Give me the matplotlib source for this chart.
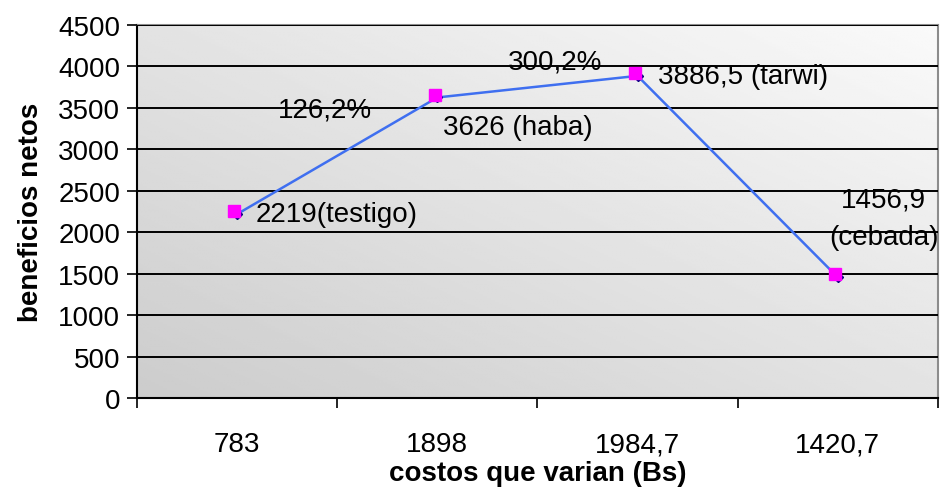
import numpy as np
import matplotlib
matplotlib.use("Agg")
import matplotlib.pyplot as plt
import matplotlib.transforms as mtransforms

plt.rcParams["font.family"] = ["Liberation Sans", "DejaVu Sans"]

costos = ["783", "1898", "1984,7", "1420,7"]
beneficios = [2219, 3626, 3886.5, 1456.9]
etiquetas = ["2219(testigo)", "3626 (haba)", "3886,5 (tarwi)", "1456,9\n(cebada)"]
tasas = ["126,2%", "300,2%"]


def main():
    fig = plt.figure(figsize=(9.41, 4.89), dpi=100)
    ax = fig.add_axes([0.1456, 0.184, 0.851, 0.7628])

    # gradient background (darker lower-left to light upper-right)
    gx, gy = np.meshgrid(np.linspace(0, 1, 200), np.linspace(0, 1, 200))
    g = (gx + gy) / 2
    ax.imshow(g, cmap="gray", vmin=-4.44, vmax=1.11, extent=[0, 1, 0, 1],
              transform=ax.transAxes, origin="lower", aspect="auto", zorder=0)

    xs = np.arange(len(costos))
    ax.set_xlim(-0.5, len(costos) - 0.5)
    ax.set_ylim(0, 4500)
    ax.set_yticks(np.arange(0, 4501, 500))
    ax.yaxis.grid(True, color="black", linewidth=1.4, zorder=1)
    ax.set_axisbelow(False)

    ax.plot(xs, beneficios, color="#3f6ff0", linewidth=1.8, marker="D",
            markersize=5, markerfacecolor="#000080", markeredgecolor="#000080", zorder=3)
    off = mtransforms.ScaledTranslation(-2 / 72, 2 / 72, fig.dpi_scale_trans)
    ax.plot(xs, beneficios, linestyle="none", marker="s", markersize=8,
            color="#ff00ff", transform=ax.transData + off, zorder=4)

    fs = 20
    ax.text(0.09, beneficios[0], etiquetas[0], fontsize=fs, ha="left", va="center", zorder=5)
    ax.text(1.03, 3269, etiquetas[1], fontsize=fs, ha="left", va="center", zorder=5)
    ax.text(2.1, beneficios[2], etiquetas[2], fontsize=fs, ha="left", va="center", zorder=5)
    ax.text(3.23, 2170, etiquetas[3], fontsize=fs, ha="center", va="center",
            multialignment="center", linespacing=1.55, zorder=5)
    ax.text(0.44, 3486, tasas[0], fontsize=fs, ha="center", va="center", zorder=5)
    ax.text(1.59, 4065, tasas[1], fontsize=fs, ha="center", va="center", zorder=5)

    ax.set_xticks(np.arange(-0.5, len(costos), 1.0))
    ax.set_xticklabels([])
    ax.set_xticks(xs, minor=True)
    ax.set_xticklabels(costos, minor=True)
    ax.tick_params(axis="x", which="minor", length=0, pad=24, labelsize=20)
    ax.tick_params(axis="x", which="major", length=7, width=1.2, direction="out")
    ax.tick_params(axis="y", length=7, width=1.2, direction="out", labelsize=20, pad=5)

    for s in ["top", "right"]:
        ax.spines[s].set_color("#8c8c8c")
        ax.spines[s].set_linewidth(1.5)
    for s in ["left", "bottom"]:
        ax.spines[s].set_color("black")
        ax.spines[s].set_linewidth(1.5)

    ax.set_xlabel("costos que varian (Bs)", fontsize=20, fontweight="bold", labelpad=2)
    ax.set_ylabel("beneficios netos", fontsize=20, fontweight="bold", labelpad=10)

    fig.savefig("out.png", dpi=100)
    plt.close(fig)


if __name__ == "__main__":
    main()
